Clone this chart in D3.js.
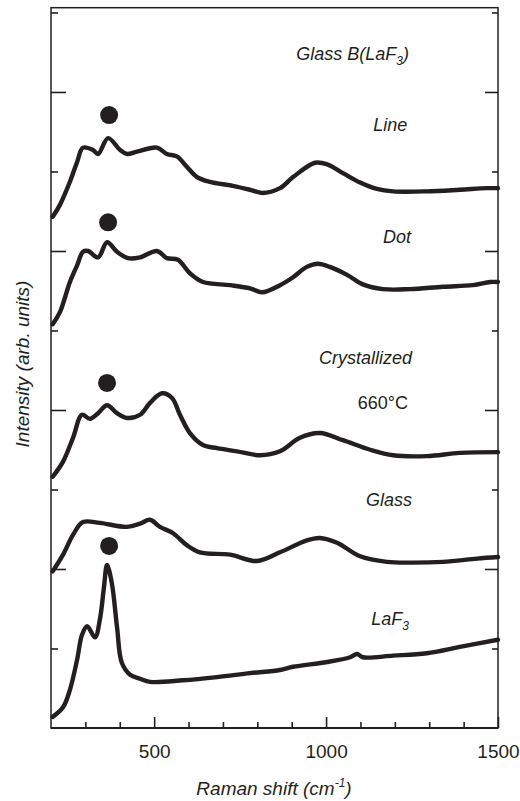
<!DOCTYPE html>
<html>
<head>
<meta charset="utf-8">
<script src="https://cdn.jsdelivr.net/npm/d3@7/dist/d3.min.js"></script>
<style>
body { margin:0; background:#fff; }
text { font-family:"Liberation Sans", Arial, Helvetica, sans-serif; fill:#231f20; }
</style>
</head>
<body>
<svg id="chart" width="520" height="801"></svg>
<script>
// Raman shift (cm-1) / intensity (arb. units, offset)
var shiftLine=[205,226,255,276,293,322,337,366,401,421,450,508,537,566,595,625,662,729,779,814,866,904,968,1003,1049,1099,1148,1195,1293,1389,1468,1500];
var intLine=[6.43,6.58,6.87,7.12,7.30,7.27,7.22,7.42,7.27,7.22,7.25,7.30,7.22,7.19,7.06,6.93,6.87,6.82,6.77,6.73,6.79,6.93,7.11,7.09,6.98,6.86,6.78,6.75,6.75,6.77,6.79,6.79];

var shiftDot=[205,226,255,276,293,308,337,363,392,424,459,508,537,569,604,642,721,779,814,866,904,944,976,1011,1061,1107,1165,1244,1340,1427,1477,1500];
var intDot=[5.08,5.23,5.61,5.82,5.99,6.00,5.92,6.11,5.99,5.91,5.92,6.00,5.91,5.89,5.72,5.61,5.57,5.53,5.48,5.57,5.67,5.80,5.84,5.80,5.70,5.58,5.52,5.52,5.55,5.57,5.61,5.61];

var shiftCry=[205,235,264,290,313,337,363,392,421,459,488,523,552,575,604,642,683,741,808,866,924,982,1049,1128,1195,1293,1389,1500];
var intCry=[3.16,3.35,3.65,3.94,3.89,3.96,4.06,3.96,3.90,3.94,4.09,4.21,4.15,3.94,3.71,3.56,3.52,3.48,3.43,3.48,3.65,3.71,3.62,3.50,3.43,3.42,3.46,3.47];

var shiftGlass=[205,235,264,293,342,421,459,488,517,555,595,633,721,799,866,944,982,1032,1099,1177,1244,1340,1439,1500];
var intGlass=[1.97,2.18,2.43,2.59,2.58,2.53,2.57,2.62,2.53,2.45,2.30,2.21,2.18,2.10,2.21,2.36,2.39,2.33,2.16,2.09,2.08,2.09,2.13,2.15];

var shiftLaF=[205,235,255,276,290,305,328,342,354,363,377,392,406,430,459,488,584,683,779,866,904,1003,1070,1090,1107,1195,1293,1389,1500];
var intLaF=[0.14,0.26,0.48,0.86,1.17,1.28,1.14,1.36,1.77,2.05,1.82,1.27,0.82,0.67,0.62,0.58,0.60,0.64,0.69,0.73,0.77,0.83,0.89,0.93,0.89,0.91,0.94,1.02,1.11];

// LaF3 peak markers
var markShift=[369,366,363,369];
var markInt=[7.71,6.36,4.34,2.29];

var xMajor=[500,1000,1500];
var xMinor=[300,400,600,700,800,900,1100,1200,1300,1400];
var yMajor=[2,4,6,8];
var yMinor=[1,3,5,7,9];

// curve labels: text, subscript, anchor (cm-1, intensity)
var labelText=["Glass B(LaF","Line","Dot","Crystallized","660\u00b0C","Glass","LaF"];
var labelSub=["3","","","","","","3"];
var labelTail=[")","","","","","",""];
var labelShift=[1241,1236,1247,1250,1238,1250,1241];
var labelInt=[8.40,7.51,6.10,4.58,4.01,2.79,1.30];

var svg=d3.select("#chart");
var plotL=51, plotR=498, plotT=7.7, plotB=728;

var x=d3.scaleLinear().domain([200,1500]).range([plotL,plotR]);
var y=d3.scaleLinear().domain([0,9.06]).range([plotB,plotT]);

function zipData(xs,ys) {
  var out=[];
  for(var i=0;i<xs.length;i++) out.push({x:xs[i], y:ys[i]});
  return out;
}

var line=d3.line()
  .x(function(d) { return x(d.x); })
  .y(function(d) { return y(d.y); })
  .curve(d3.curveCatmullRom.alpha(0.5));

var series=[[shiftLine,intLine],[shiftDot,intDot],[shiftCry,intCry],[shiftGlass,intGlass],[shiftLaF,intLaF]];
series.forEach(function(s) {
  svg.append("path")
    .attr("d", line(zipData(s[0],s[1])))
    .attr("fill","none")
    .attr("stroke","#231f20")
    .attr("stroke-width",4.4)
    .attr("stroke-linejoin","round")
    .attr("stroke-linecap","round");
});

svg.selectAll("circle.mark").data(zipData(markShift,markInt)).enter()
  .append("circle")
  .attr("class","mark")
  .attr("cx", function(d) { return x(d.x); })
  .attr("cy", function(d) { return y(d.y); })
  .attr("r", 9)
  .attr("fill","#231f20");

// frame
svg.append("rect")
  .attr("x",plotL).attr("y",plotT)
  .attr("width",plotR-plotL).attr("height",plotB-plotT)
  .attr("fill","none").attr("stroke","#231f20").attr("stroke-width",1.5);
svg.append("line")
  .attr("x1",plotL).attr("x2",plotR).attr("y1",plotB).attr("y2",plotB)
  .attr("stroke","#231f20").attr("stroke-width",2.2);

function addAxis(axis,tx,ty) {
  var g=svg.append("g").attr("transform","translate("+tx+","+ty+")").call(axis);
  g.select(".domain").remove();
  g.selectAll(".tick line").attr("stroke","#231f20").attr("stroke-width",1.6);
  return g;
}

var gx=addAxis(d3.axisBottom(x).tickValues(xMajor).tickSizeInner(-11).tickSizeOuter(0)
           .tickPadding(17).tickFormat(d3.format("d")),0,plotB);
gx.selectAll(".tick text")
  .style("font-size","19px")
  .style("font-family","'Liberation Sans', Arial, sans-serif")
  .attr("fill","#231f20");
addAxis(d3.axisBottom(x).tickValues(xMinor).tickSizeInner(-6).tickSizeOuter(0).tickFormat(""),0,plotB);

addAxis(d3.axisLeft(y).tickValues(yMajor).tickSizeInner(-15).tickSizeOuter(0).tickFormat(""),plotL,0);
addAxis(d3.axisLeft(y).tickValues(yMinor).tickSizeInner(-7).tickSizeOuter(0).tickFormat(""),plotL,0);
addAxis(d3.axisRight(y).tickValues(yMajor).tickSizeInner(-13).tickSizeOuter(0).tickFormat(""),plotR,0);
addAxis(d3.axisRight(y).tickValues(yMinor).tickSizeInner(-6).tickSizeOuter(0).tickFormat(""),plotR,0);

// curve labels
for(var i=0;i<labelText.length;i++) {
  var t=svg.append("text")
    .attr("x", x(labelShift[i]))
    .attr("y", y(labelInt[i]))
    .attr("text-anchor","end")
    .style("font-size","18px")
    .style("font-style", labelText[i].indexOf("\u00b0")>=0 ? "normal" : "italic");
  t.append("tspan").text(labelText[i]);
  if(labelSub[i]) {
    t.append("tspan").attr("dy",5).style("font-size","12px").text(labelSub[i]);
    if(labelTail[i]) t.append("tspan").attr("dy",-5).text(labelTail[i]);
  }
}

// axis titles
var xt=svg.append("text")
  .attr("x",274).attr("y",795)
  .attr("text-anchor","middle")
  .style("font-size","19px").style("font-style","italic");
xt.append("tspan").text("Raman shift (cm");
xt.append("tspan").attr("dy",-8).style("font-size","12px").text("-1");
xt.append("tspan").attr("dy",8).text(")");

svg.append("text")
  .attr("transform","translate(29,364) rotate(-90)")
  .attr("text-anchor","middle")
  .style("font-size","19px").style("font-style","italic")
  .text("Intensity (arb. units)");
</script>
</body>
</html>
